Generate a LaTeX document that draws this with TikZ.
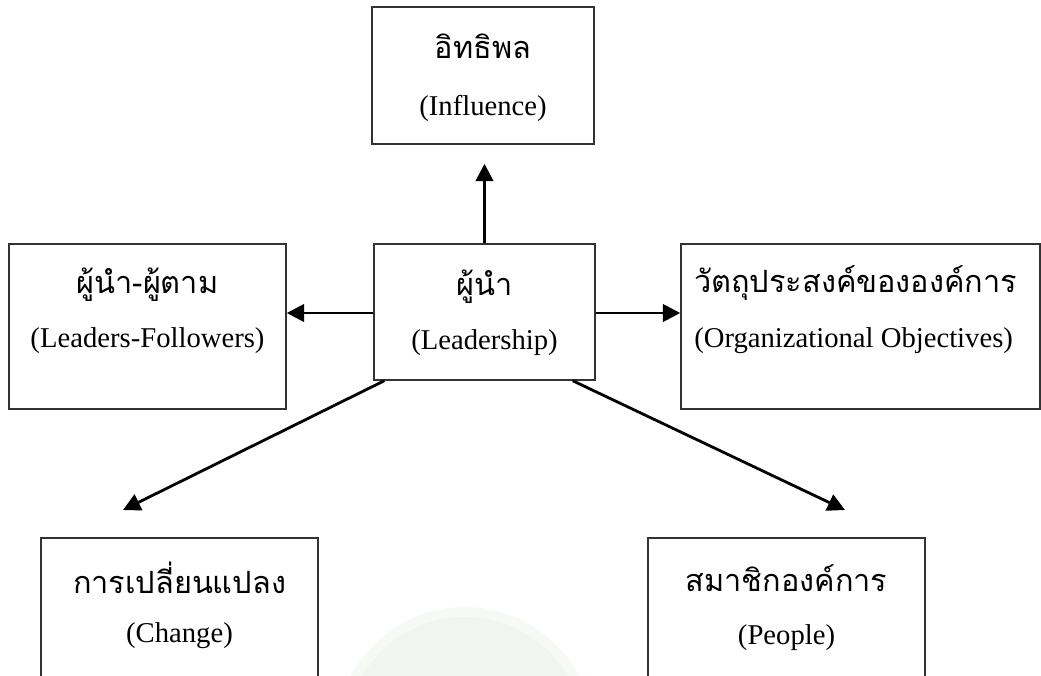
\documentclass[tikz,border=0pt]{standalone}
\usepackage{fontspec}
\setmainfont{Liberation Serif}
\newfontfamily\thai[Script=Thai]{Loma}
\usetikzlibrary{arrows.meta}
\definecolor{frame}{HTML}{333333}
\definecolor{seal}{HTML}{F1F5EF}
\begin{document}
\begin{tikzpicture}[x=0.75pt,y=-0.75pt,
  box/.style={draw=frame,line width=1.1pt,inner sep=0pt,
    minimum width=#1*0.75pt},
  box/.default=277,
  th/.style={font=\thai\fontsize{23}{26}\selectfont,inner sep=0pt},
  en/.style={font=\fontsize{21.5}{25}\selectfont,inner sep=0pt},
  link/.style={line width=2.1pt,-{Triangle[length=13pt,width=13pt]}}]
\useasboundingbox (0,0) rectangle (1041,675);
\clip (0,0) rectangle (1041,675);
% faint seal in the lower middle
\fill[seal!60!white] (465,736) circle[radius=129*0.75pt];
\fill[seal] (465,736) circle[radius=119*0.75pt];

% boxes
\node[box=222,minimum height=137*0.75pt] (infl) at (483,75.5) {};
\node[box=221,minimum height=136*0.75pt] (lead) at (484.5,312) {};
\node[box=277,minimum height=165*0.75pt] (foll) at (147.5,326.5) {};
\node[box=359,minimum height=165*0.75pt] (obj) at (860.5,326.5) {};
\node[box=277,minimum height=165*0.75pt] (chg) at (179.5,620.5) {};
\node[box=277,minimum height=165*0.75pt] (ppl) at (786.5,620.5) {};

% labels
\node[th] (inflth) at (483,46) {อิทธิพล};
\node[en] (inflen) at (483,108) {(Influence)};
\node[th] (leadth) at (484.5,287) {ผู้นำ};
\node[en] (leaden) at (484.5,343) {(Leadership)};
\node[th] (follth) at (147.5,285) {ผู้นำ-ผู้ตาม};
\node[en] (follen) at (147.5,341) {(Leaders-Followers)};
\node[th,anchor=west] (objth) at (694,283) {วัตถุประสงค์ขององค์การ};
\node[en,anchor=west] (objen) at (694,341) {(Organizational Objectives)};
\node[th] (chgth) at (179.5,578) {การเปลี่ยนแปลง};
\node[en] (chgen) at (179.5,636) {(Change)};
\node[th] (pplth) at (786.5,578) {สมาชิกองค์การ};
\node[en] (pplen) at (786.5,638) {(People)};

% connectors
\coordinate (chgtip) at (123,510);
\coordinate (ppltip) at (845,510);
\draw[link,shorten >=14.25pt] (lead.north) -- (lead.north |- infl.south);
\draw[link] (lead.west |- 0,313) -- (foll.east |- 0,313);
\draw[link] (lead.east |- 0,313) -- (obj.west |- 0,313);
\draw[link] ([xshift=8.25pt]lead.south west) -- (chgtip);
\draw[link] ([xshift=-17.25pt]lead.south east) -- (ppltip);
\end{tikzpicture}
\end{document}
